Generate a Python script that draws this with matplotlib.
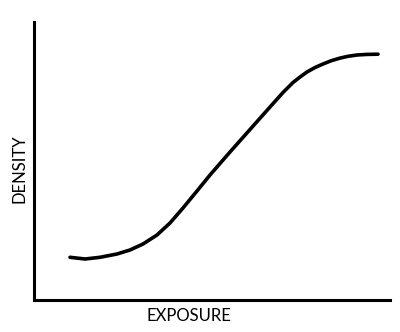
import matplotlib.pyplot as plt

# characteristic curve (relative units)
exposure = [36, 51, 66, 83, 96, 109, 123, 136, 149, 163, 176, 196, 216,
            236, 249, 259, 266, 273, 281, 289, 297, 306, 314, 323, 333, 344]
density = [42.7, 41, 42.7, 46, 50, 56, 65, 77, 92, 109, 125, 148, 170.5,
           193, 207.5, 217.5, 223, 228, 232.5, 236, 239.2, 241.9, 243.7,
           245, 245.6, 245.8]

fig = plt.figure(figsize=(4, 3.32), dpi=100)
ax = fig.add_axes([34 / 400, 32 / 332, 356 / 400, 278 / 332])

ax.plot(exposure, density, color='black', lw=2.6, solid_capstyle='round',
        solid_joinstyle='round')

ax.set_xlim(0, 356)
ax.set_ylim(0, 278)
ax.set_xticks([])
ax.set_yticks([])
for side in ['top', 'right']:
    ax.spines[side].set_visible(False)
for side in ['left', 'bottom']:
    ax.spines[side].set_linewidth(2.2)

fig.text(189 / 400, 1 - 316 / 332, 'EXPOSURE', ha='center', va='center',
         fontsize=12, family='Lato')
fig.text(19 / 400, 1 - 169 / 332, 'DENSITY', ha='center', va='center',
         rotation=90, fontsize=12, family='Lato')

fig.savefig('out.png', dpi=100)
